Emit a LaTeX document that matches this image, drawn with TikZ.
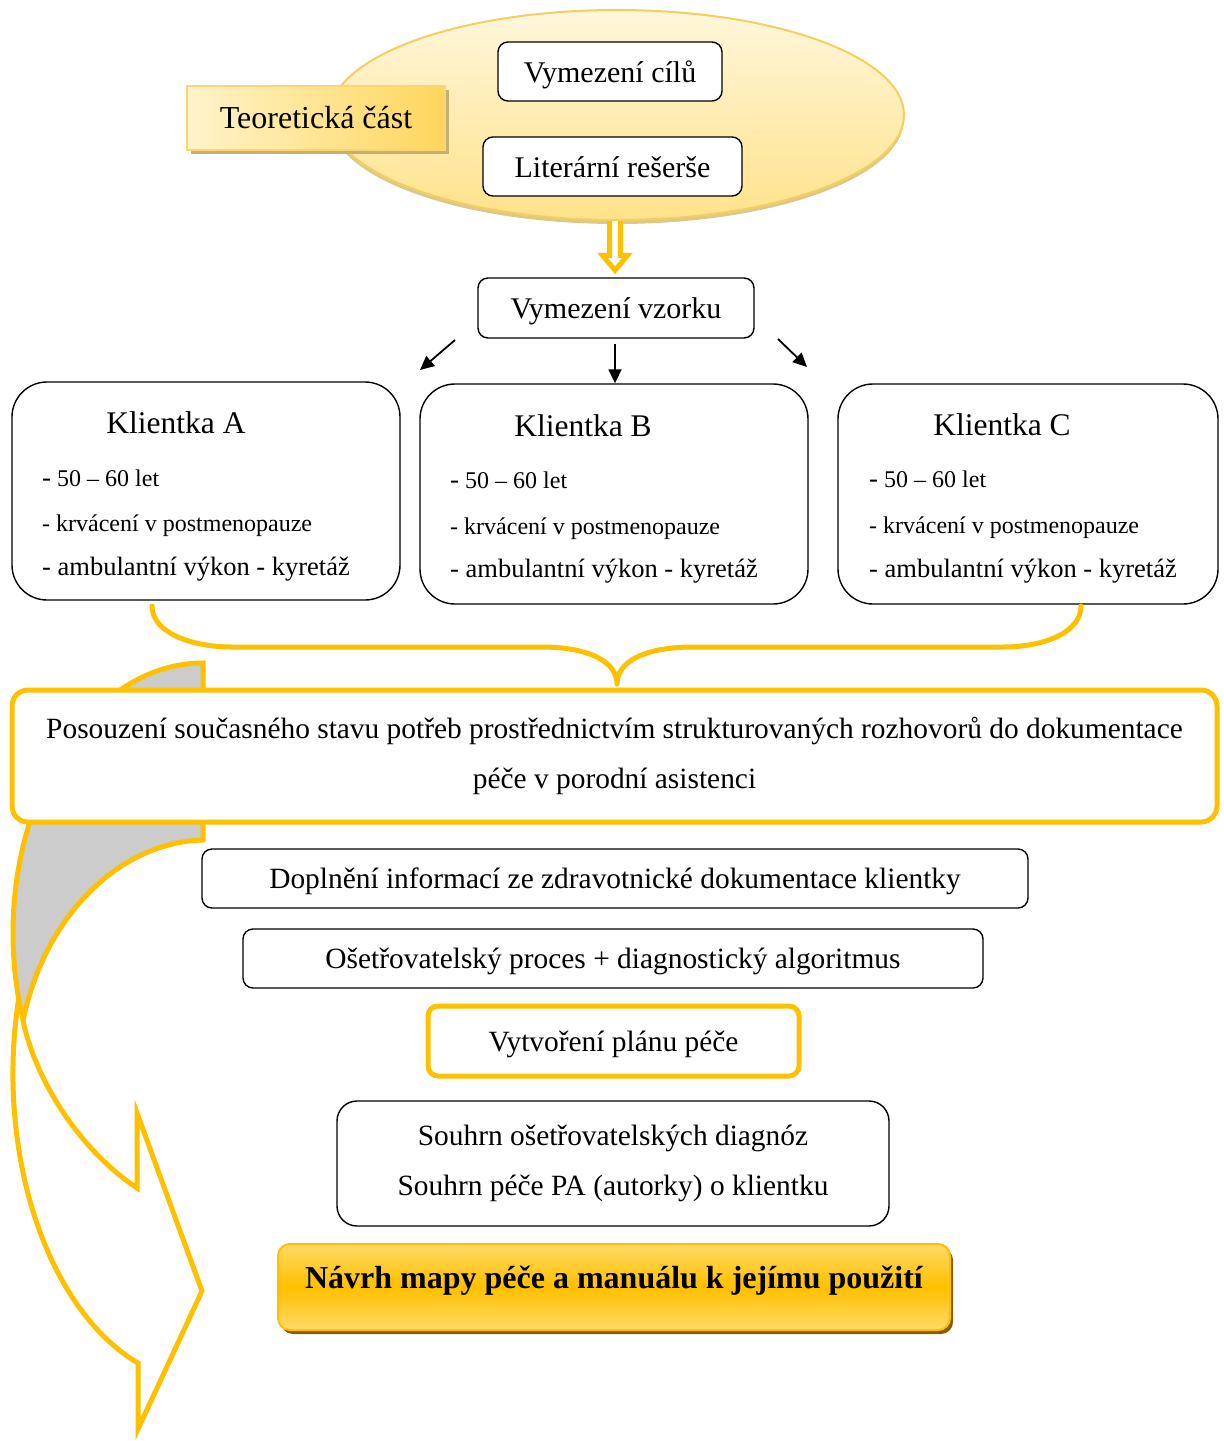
\documentclass[tikz,border=0pt]{standalone}
\usepackage{fontspec}
\setmainfont{Liberation Serif}
\usetikzlibrary{arrows.meta,shapes.geometric,shadows,calc}
\definecolor{gold}{HTML}{FFC000}
\definecolor{graycol}{HTML}{CCCCCC}
\definecolor{elltop}{HTML}{FFF7DC}
\definecolor{ellbot}{HTML}{FFE28A}
\definecolor{ellborder}{HTML}{F5CF5E}
\definecolor{ellshadow}{HTML}{D9C27E}
\definecolor{teolight}{HTML}{FFF3CB}
\definecolor{teodark}{HTML}{FFD65C}
\definecolor{teoborder}{HTML}{F9D672}
\definecolor{teoshadow}{HTML}{C7B06E}
\definecolor{navlight}{HTML}{FFD966}
\definecolor{navshadow}{HTML}{7F6000}
\begin{document}
\begin{tikzpicture}[x=1pt,y=-1pt,
  bx/.style={draw=black, line width=1.4pt, rounded corners=10pt, fill=white, inner sep=0pt, align=center},
  gbx/.style={draw=gold, line width=5pt, rounded corners=16pt, fill=white, inner sep=0pt, align=center},
  arr/.style={line width=1.8pt, -{Triangle[length=14pt,width=13pt]}},
  gline/.style={draw=gold, line width=5pt},
  fTop/.style={font=\fontsize{30}{36}\selectfont, text height=21pt, text depth=0pt},
  fOne/.style={font=\fontsize{29.4}{36}\selectfont, text height=20.6pt, text depth=0pt},
  fLow/.style={font=\fontsize{29.4}{49.5}\selectfont},
  fTitle/.style={font=\fontsize{31.5}{36}\selectfont},
  fSmall/.style={font=\fontsize{24}{28}\selectfont},
  fMid/.style={font=\fontsize{26.5}{30}\selectfont},
]
\useasboundingbox (0,0) rectangle (1224,1441);

% ---- big curved arrow (front, white part)
\draw[gline, fill=white, line join=miter, miter limit=10]
  (23,1020) .. controls (35,1080) and (80,1150) .. (137,1188)
  -- (137,1113) -- (202,1291) -- (138,1429) -- (138,1363)
  arc[start angle=110, end angle=200, x radius=190, y radius=308] -- cycle;
% ---- big curved arrow (back, gray part)
\draw[gline, fill=graycol, line join=miter]
  (203,663) arc[start angle=-90, end angle=-198.8, x radius=190, y radius=270]
  .. controls (45,915) and (120,842) .. (203,840) -- cycle;

% ---- nodes
\node[ellipse, minimum width=574pt, minimum height=210pt, draw=ellborder, line width=2pt,
      top color=elltop, bottom color=ellbot,
      drop shadow={shadow xshift=0pt, shadow yshift=-4pt, fill=ellshadow, opacity=0.9}] (ell) at (617,115) {};
\node[bx, fTop, minimum width=224pt, minimum height=59pt] (vc) at (610,71.5) {Vymezení cílů};
\node[bx, fTop, minimum width=259pt, minimum height=59pt] (lr) at (612.5,166.5) {Literární rešerše};
\node[draw=teoborder, line width=1.5pt, left color=teolight, right color=teodark, inner sep=0pt,
      minimum width=258pt, minimum height=64pt, font=\fontsize{32}{36}\selectfont,
      drop shadow={shadow xshift=4pt, shadow yshift=-4pt, fill=teoshadow, opacity=1}] (teo) at (316,118) {Teoretická část};

\node[bx, fTop, minimum width=276pt, minimum height=60pt] (vv) at (616,308) {Vymezení vzorku};

% yellow hollow double arrow
\coordinate (da) at (vv.north -| 615,0);
\coordinate (db) at (ell.south -| 615,0);
\draw[gline, fill=white, line join=miter]
  ($(db)+(-5.3,-4)$) -- ($(da)+(-5.3,-22)$) -- ($(da)+(-12.5,-22)$)
  -- ($(da)+(0,-7)$) -- ($(da)+(12.5,-22)$) -- ($(da)+(5.3,-22)$)
  -- ($(db)+(5.3,-4)$);
\fill[ellbot] ($(db)+(-12,-10)$) rectangle ($(db)+(12,-0.5)$);
\draw[ellborder, line width=2pt] ($(ell.south)+(-14,-1)$) -- ($(ell.south)+(14,-1)$);

\node[bx, rounded corners=35pt, minimum width=388pt, minimum height=218pt] (kA) at (206,491) {};
\node[bx, rounded corners=35pt, minimum width=388pt, minimum height=220pt] (kB) at (614,494) {};
\node[bx, rounded corners=35pt, minimum width=380pt, minimum height=220pt] (kC) at (1028,494) {};

% client texts
\node[fTitle, anchor=base, inner sep=0pt] (kAt) at (176,433) {Klientka A};
\node[fSmall, anchor=base west, inner sep=0pt] (kA1) at (42,486) {{\fontsize{27}{30}\selectfont -} 50 – 60 let};
\node[fSmall, anchor=base west, inner sep=0pt] (kA2) at (42,531) {- krvácení v postmenopauze};
\node[fMid, anchor=base west, inner sep=0pt] (kA3) at (42,575) {- ambulantní výkon - kyretáž};

\node[fTitle, anchor=base, inner sep=0pt] (kBt) at (583,436) {Klientka B};
\node[fSmall, anchor=base west, inner sep=0pt] (kB1) at (450,488) {{\fontsize{27}{30}\selectfont -} 50 – 60 let};
\node[fSmall, anchor=base west, inner sep=0pt] (kB2) at (450,534) {- krvácení v postmenopauze};
\node[fMid, anchor=base west, inner sep=0pt] (kB3) at (450,577) {- ambulantní výkon - kyretáž};

\node[fTitle, anchor=base, inner sep=0pt] (kCt) at (1002,435) {Klientka C};
\node[fSmall, anchor=base west, inner sep=0pt] (kC1) at (869,487) {{\fontsize{27}{30}\selectfont -} 50 – 60 let};
\node[fSmall, anchor=base west, inner sep=0pt] (kC2) at (869,533) {- krvácení v postmenopauze};
\node[fMid, anchor=base west, inner sep=0pt] (kC3) at (869,577) {- ambulantní výkon - kyretáž};

% black arrows
\coordinate (la1) at (455,340);
\coordinate (la2) at (420,370);
\coordinate (ra1) at (778,339);
\coordinate (ra2) at (807,367);
\draw[arr] (la1) -- (la2);
\draw[arr] (ra1) -- (ra2);
\draw[arr, shorten <=5pt] (vv.south -| 615,0) -- (kB.north -| 615,0);

% brace
\coordinate (bl) at (152,606);
\coordinate (br) at (1081,606);
\coordinate (bt) at (617,684);
\draw[gold, line width=5pt, line cap=round, line join=round]
  (bl) .. controls (152,632) and (190,647) .. (232,647) -- (541,647)
  .. controls (590,647) and (617,662) .. (bt)
  .. controls (617,662) and (644,647) .. (693,647) -- (1003,647)
  .. controls (1045,647) and (1081,632) .. (br);

% assessment box
\node[gbx, fLow, minimum width=1205pt, minimum height=132pt] (pos) at (614.5,756)
  {Posouzení současného stavu potřeb prostřednictvím strukturovaných rozhovorů do dokumentace\\péče v porodní asistenci};

\node[bx, fOne, minimum width=826pt, minimum height=59pt] (dop) at (615,878.5) {Doplnění informací ze zdravotnické dokumentace klientky};
\node[bx, fOne, minimum width=740pt, minimum height=59pt] (ose) at (613,958.5) {Ošetřovatelský proces + diagnostický algoritmus};
\node[gbx, fOne, rounded corners=10pt, minimum width=371pt, minimum height=70pt] (vyt) at (613.5,1041) {Vytvoření plánu péče};
\node[bx, fLow, rounded corners=20pt, minimum width=552pt, minimum height=125pt] (sou) at (613,1163.5)
  {Souhrn ošetřovatelských diagnóz\\Souhrn péče PA (autorky) o klientku};

\node[draw=gold, line width=2pt, rounded corners=12pt, inner sep=0pt,
      top color=navlight, bottom color=navlight, middle color=gold,
      minimum width=672pt, minimum height=86pt, font=\fontsize{32}{36}\selectfont\bfseries,
      text height=22pt, text depth=19pt,
      drop shadow={shadow xshift=3pt, shadow yshift=-4pt, fill=navshadow, opacity=1}] (nav) at (614,1287)
  {Návrh mapy péče a manuálu k jejímu použití};
\end{tikzpicture}
\end{document}
